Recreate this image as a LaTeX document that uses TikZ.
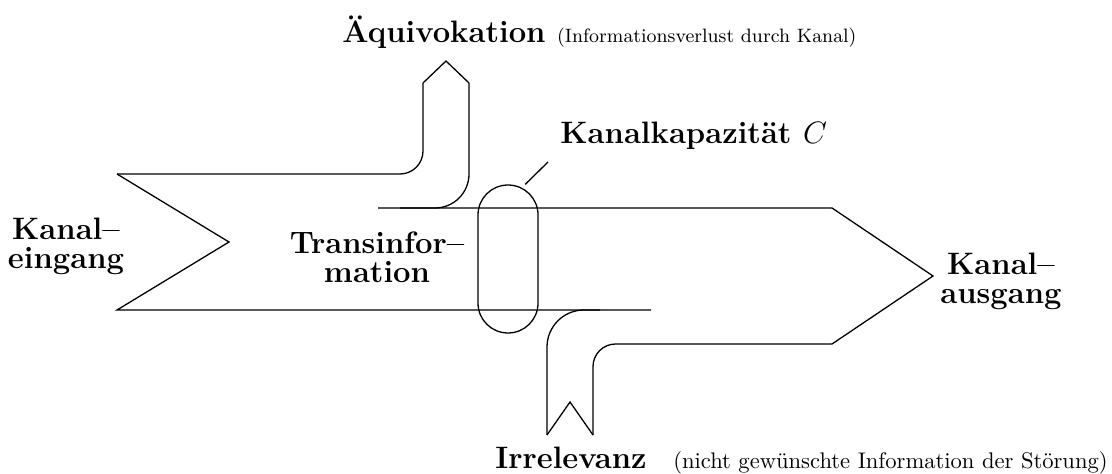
\documentclass[tikz,border=0pt]{standalone}
\usepackage{tikz}
\usetikzlibrary{positioning}

\begin{document}
\begin{tikzpicture}[
    x=0.465pt, y=-0.465pt,
    kante/.style  = {line width=0.6pt},
    titel/.style  = {font=\Large\bfseries, inner sep=0pt},
    zusatz/.style = {font=\fontsize{10.5}{12.6}\selectfont, inner sep=0pt},
    marke/.style  = {align=center, inner sep=0pt,
                     font=\fontsize{14.4}{13.5}\bfseries\selectfont},
  ]
  \useasboundingbox (0,0) rectangle (1112,473);

  % Kanaleingang mit Abzweig fuer die Aequivokation
  \draw[kante] (117,174) -- (229,242) -- (117,310) -- (651,310);
  \draw[kante, rounded corners=10.7pt] (117,174) -- (423,174) -- (423,83);
  \draw[kante] (423,83) -- (446,61) -- (469,83);
  \draw[kante, rounded corners=15.8pt] (469,83) -- (469,208) -- (400,208);

  % Transinformation bis zum Kanalausgang, Abzweig Irrelevanz
  \draw[kante] (378,208) -- (832,208) -- (933,276) -- (832,344);
  \draw[kante, rounded corners=10.5pt] (832,344) -- (593,344) -- (593,435);
  \draw[kante] (593,435) -- (570,402) -- (547,435);
  \draw[kante, rounded corners=17.2pt] (547,435) -- (547,310) -- (600,310);

  % Kanalkapazitaet
  \node[kante, draw, rounded corners=13.9pt, minimum width=27.9pt,
        minimum height=68.8pt, inner sep=0pt] (kap) at (508,259) {};
  \node[titel, anchor=base west] (kaptext) at (560,144) {Kanalkapazität $C$};
  \coordinate (kapzeiger) at (548,162);
  \draw[kante] (kap.77) -- (kapzeiger);

  % Beschriftungen
  \node[titel, anchor=base] (aequi) at (444,43) {Äquivokation};
  \node[zusatz, font=\small, base right=5pt of aequi] (aequiinfo)
       {(Informationsverlust durch Kanal)};
  \node[titel, anchor=base] (irr) at (571,468) {Irrelevanz};
  \node[zusatz, base right=12pt of irr] (irrinfo)
       {(nicht gewünschte Information der Störung)};

  \node[marke] (ein)   at (66,246)   {Kanal–\\eingang};
  \node[marke] (trans) at (377,257)  {Transinfor–\\mation};
  \node[marke] (aus)   at (1001,281) {Kanal–\\ausgang};
\end{tikzpicture}
\end{document}
